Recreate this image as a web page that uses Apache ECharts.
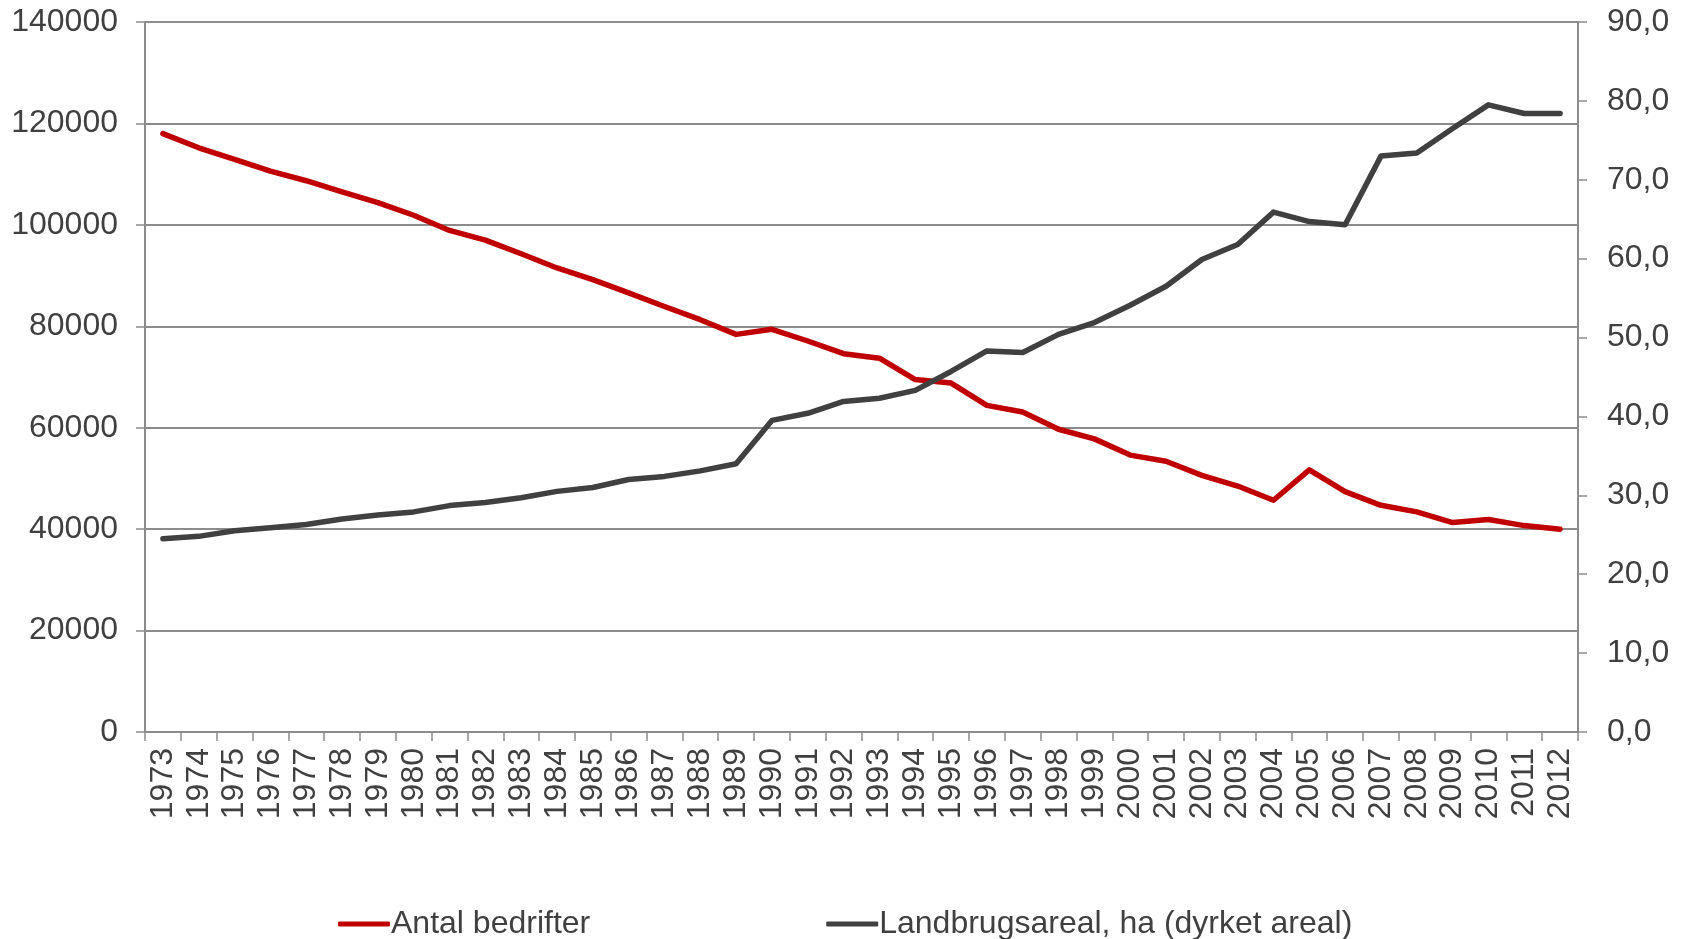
<!DOCTYPE html>
<html>
<head>
<meta charset="utf-8">
<script src="https://cdn.jsdelivr.net/npm/echarts@6/dist/echarts.min.js"></script>
<style>
  html, body { margin: 0; padding: 0; background: #fff; }
  #chart { width: 1684px; height: 939px; }
</style>
</head>
<body>
<div id="chart"></div>
<script>
const years = [
    '1973', '1974', '1975', '1976', '1977', '1978', '1979', '1980', '1981', '1982',
    '1983', '1984', '1985', '1986', '1987', '1988', '1989', '1990', '1991', '1992',
    '1993', '1994', '1995', '1996', '1997', '1998', '1999', '2000', '2001', '2002',
    '2003', '2004', '2005', '2006', '2007', '2008', '2009', '2010', '2011', '2012'
];

// Antal bedrifter (left axis)
const antalBedrifter = [
    118000, 115200, 112900, 110600, 108700, 106500, 104400, 101900, 98900, 97000,
    94300, 91500, 89200, 86600, 83900, 81300, 78400, 79400, 77100, 74600,
    73700, 69500, 68800, 64400, 63100, 59700, 57800, 54600, 53400, 50600,
    48500, 45700, 51700, 47400, 44700, 43400, 41300, 41900, 40700, 40000
];

// Landbrugsareal, ha (dyrket areal) (right axis)
const landbrugsareal = [
    24.5, 24.8, 25.5, 25.9, 26.3, 27.0, 27.5, 27.9, 28.7, 29.1,
    29.7, 30.5, 31.0, 32.0, 32.4, 33.1, 34.0, 39.5, 40.4, 41.9,
    42.3, 43.3, 45.7, 48.3, 48.1, 50.4, 51.9, 54.1, 56.5, 59.9,
    61.8, 65.9, 64.7, 64.3, 73.0, 73.4, 76.5, 79.5, 78.4, 78.4
];

const seriesNames = ['Antal bedrifter', 'Landbrugsareal, ha (dyrket areal)'];
const seriesColors = ['#c00000', '#404040'];

const FONT = 'Liberation Sans, Arial, sans-serif';
const TEXT_COLOR = '#404040';
const AXIS_COLOR = '#8c8c8c';
const FONT_SIZE = 32;

const chart = echarts.init(document.getElementById('chart'), null, { renderer: 'canvas' });

const option = {
    animation: false,
    textStyle: { fontFamily: FONT },
    grid: {
        left: 145,
        right: 106,
        top: 22,
        bottom: 207,
        containLabel: false,
    },
    legend: {
        left: 333,
        top: 903,
        itemWidth: 52,
        itemHeight: 5,
        itemGap: 236,
        icon: 'roundRect',
        textStyle: { fontSize: FONT_SIZE, color: TEXT_COLOR, fontFamily: FONT, padding: [0, 0, 0, -4] },
        data: seriesNames,
    },
    xAxis: {
        type: 'category',
        data: years,
        boundaryGap: true,
        axisLine: { lineStyle: { color: AXIS_COLOR, width: 2 } },
        axisTick: { show: true, length: 9, lineStyle: { color: AXIS_COLOR, width: 1.5 } },
        axisLabel: {
            rotate: 90,
            interval: 0,
            margin: 16,
            fontSize: FONT_SIZE,
            color: TEXT_COLOR,
            fontFamily: FONT,
        },
    },
    yAxis: [
        {
            type: 'value',
            min: 0,
            max: 140000,
            interval: 20000,
            axisLine: { show: true, lineStyle: { color: AXIS_COLOR, width: 2 } },
            axisTick: { show: true, length: 9, lineStyle: { color: AXIS_COLOR, width: 1.5 } },
            splitLine: { show: true, lineStyle: { color: AXIS_COLOR, width: 2 } },
            axisLabel: {
                fontSize: FONT_SIZE,
                color: TEXT_COLOR,
                margin: 27,
                fontFamily: FONT,
                formatter: function (v) { return String(v); },
            },
        },
        {
            type: 'value',
            min: 0,
            max: 90,
            interval: 10,
            position: 'right',
            axisLine: { show: true, lineStyle: { color: AXIS_COLOR, width: 2 } },
            axisTick: { show: true, length: 9, lineStyle: { color: AXIS_COLOR, width: 1.5 } },
            splitLine: { show: false },
            axisLabel: {
                fontSize: FONT_SIZE,
                color: TEXT_COLOR,
                margin: 29,
                fontFamily: FONT,
                formatter: function (v) { return v.toFixed(1).replace('.', ','); },
            },
        },
    ],
    series: [
        {
            name: seriesNames[0],
            type: 'line',
            yAxisIndex: 0,
            data: antalBedrifter,
            symbol: 'none',
            color: seriesColors[0],
            lineStyle: { width: 5.5, color: seriesColors[0], cap: 'round', join: 'round' },
        },
        {
            name: seriesNames[1],
            type: 'line',
            yAxisIndex: 1,
            data: landbrugsareal,
            symbol: 'none',
            color: seriesColors[1],
            lineStyle: { width: 5.5, color: seriesColors[1], cap: 'round', join: 'round' },
        },
    ],
};

chart.setOption(option);
</script>
</body>
</html>
